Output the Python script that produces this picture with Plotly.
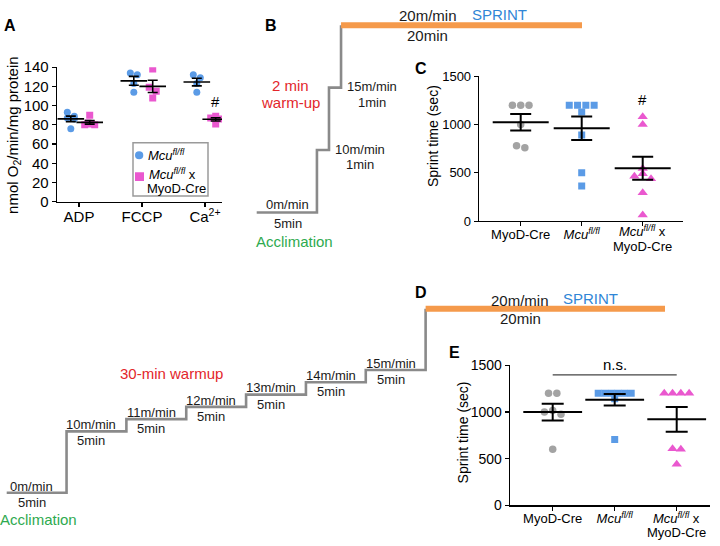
import numpy as np
import plotly.graph_objects as go

W, H = 720, 546
FONT = "Liberation Sans, Arial, Helvetica, sans-serif"

# ============================ DATA ============================
# Panel A - mitochondrial O2 consumption (nmol O2/min/mg protein)
a_conditions = ["ADP", "FCCP", "Ca<sup>2+</sup>"]
a_mcu_adp = [93, 89, 87, 86, 76]
a_mcu_fccp = [134, 132, 123, 114]
a_mcu_ca = [132, 129, 123, 114]
a_ko_adp = [90, 82, 81, 80, 80]
a_ko_fccp = [138, 119, 115, 108]
a_ko_ca = [89, 87, 86, 81]
a_yticks = [0, 20, 40, 60, 80, 100, 120, 140]

# genotype labels (x labels of C and E; the third one is written on two lines)
genotype_labels = ["MyoD-Cre",
                   "<i>Mcu</i><sup><i>fl/fl</i></sup>",
                   ""]
ko_label_line1 = "<i>Mcu</i><sup><i>fl/fl</i></sup> x"
ko_label_line2 = "MyoD-Cre"
legend_label_1 = "<i>Mcu</i><sup><i>fl/fl</i></sup>"
legend_label_2a = "<i>Mcu</i><sup><i>fl/fl</i></sup> x"
legend_label_2b = "MyoD-Cre"

# Panel C - sprint time after 2-min warm-up (sec)
c_myod = [1200, 1200, 1200, 1000, 780, 760]
c_mcu = [1200, 1200, 1200, 1200, 1130, 890, 500, 365]
c_ko = [1080, 1000, 545, 490, 465, 440, 295, 65]

# Panel E - sprint time after 30-min warm-up (sec)
e_myod = [1200, 1200, 1015, 1000, 975, 600]
e_mcu = [1200, 1200, 1200, 1200, 1200, 1200, 1140, 705]
e_ko = [1200, 1200, 1200, 1200, 605, 600, 440]
sprint_yticks = [0, 500, 1000, 1500]

# Treadmill protocols (speed m/min, duration min)
b_speeds = [0, 10, 15, 20]
b_minutes = [5, 1, 1, 20]
d_speeds = [0, 10, 11, 12, 13, 14, 15, 20]
d_minutes = [5, 5, 5, 5, 5, 5, 5, 20]

# ============================ STYLE ============================
BLUE = "#5b9be6"
PINK = "#ea58cf"
GREY = "#a3a3a3"
STAIR = "#8a8a8a"
ORANGE = "#f59a4b"
GREEN = "#2eaa4f"
RED = "#e3262b"
SPRINT_BLUE = "#2f86d6"


def lin(pa, va, pb, vb, p):
    return va + (p - pa) * (vb - va) / (pb - pa)


def xdom(p0, p1):
    return [p0 / W, p1 / W]


def ydom(top, bottom):
    return [1 - bottom / H, 1 - top / H]


def px(x):
    return x / W


def py(y):
    return 1 - y / H


def swarm_offsets(values, ppu_y, ppu_x, thr_px=5.0, step_px=8.3, span_px=33.0):
    v = np.asarray(values, float)
    order = np.argsort(-v, kind="stable")
    clusters = []
    for i in order:
        if clusters and (v[clusters[-1][0]] - v[i]) * ppu_y < thr_px:
            clusters[-1].append(i)
        else:
            clusters.append([i])
    off = np.zeros(len(v))
    for cl in clusters:
        n = len(cl)
        if n == 1:
            continue
        step = min(step_px, span_px / (n - 1))
        if n % 2:
            slots = [0] + [s * k for k in range(1, n // 2 + 1) for s in (-1, 1)]
        else:
            slots = [s * (k - 0.5) for k in range(1, n // 2 + 1) for s in (-1, 1)]
        for i, sl in zip(cl, slots):
            off[i] = sl * step / ppu_x
    return off


def mean_sem_trace(vals, x, xa, ya, size, capw, thick):
    v = np.asarray(vals, float)
    m = v.mean()
    sem = v.std(ddof=1) / np.sqrt(len(v))
    return go.Scatter(x=[x], y=[m], mode="markers", xaxis=xa, yaxis=ya,
                      marker=dict(symbol="line-ew", size=size, color="black",
                                  line=dict(width=thick, color="black")),
                      error_y=dict(type="data", array=[sem], width=capw,
                                   thickness=thick, color="black"),
                      showlegend=False, hoverinfo="skip")


fig = go.Figure()

# ============================ PANEL A ============================
A_X0, A_X1 = 79, 142           # pixel of category 0 and 1
A_DOM = (57, 222)
A_TOP, A_BOT = 60, 199
a_ppu_x = A_X1 - A_X0
a_ppu_y = (A_BOT - A_TOP) / 140
a_sets = [(a_mcu_adp, a_ko_adp), (a_mcu_fccp, a_ko_fccp), (a_mcu_ca, a_ko_ca)]
for i, (mcu, ko) in enumerate(a_sets):
    for vals, dx, col, sym in [(mcu, -0.13, BLUE, "circle"), (ko, 0.17, PINK, "square")]:
        xc = i + dx
        off = swarm_offsets(vals, a_ppu_y, a_ppu_x, thr_px=5, step_px=7, span_px=10)
        fig.add_trace(go.Scatter(x=xc + off, y=vals, mode="markers", xaxis="x", yaxis="y",
                                 marker=dict(symbol=sym, size=7, color=col, line=dict(width=0)),
                                 showlegend=False, hoverinfo="skip"))
for i, (mcu, ko) in enumerate(a_sets):
    fig.add_trace(mean_sem_trace(mcu, i - 0.13, "x", "y", 19, 5, 1.6))
    fig.add_trace(mean_sem_trace(ko, i + 0.17, "x", "y", 19, 5, 1.6))

# ============================ PANEL C ============================
C_X0, C_X1 = 520.7, 581.7
C_DOM = (479, 683)
C_TOP, C_BOT = 69.3, 219
c_ppu_x = C_X1 - C_X0
c_ppu_y = (C_BOT - C_TOP) / 1500
# ============================ PANEL E ============================
E_X0, E_X1 = 552.7, 614.7
E_DOM = (510, 710)
E_TOP, E_BOT = 367.7, 512.3
e_ppu_x = E_X1 - E_X0
e_ppu_y = (E_BOT - E_TOP) / 1500

for groups, xa, ya, ppx, ppy, msize, capw in [
        ((c_myod, c_mcu, c_ko), "x3", "y3", c_ppu_x, c_ppu_y, 40, 10.5),
        ((e_myod, e_mcu, e_ko), "x5", "y5", e_ppu_x, e_ppu_y, 42, 11)]:
    styles = [(GREY, "circle", 7.5), (BLUE, "square", 7), (PINK, "triangle-up", 9)]
    for i, (vals, (col, sym, sz)) in enumerate(zip(groups, styles)):
        off = swarm_offsets(vals, ppy, ppx, thr_px=5, step_px=8.3, span_px=33)
        fig.add_trace(go.Scatter(x=i + off, y=vals, mode="markers", xaxis=xa, yaxis=ya,
                                 marker=dict(symbol=sym, size=sz, color=col, line=dict(width=0)),
                                 showlegend=False, hoverinfo="skip"))
    for i, vals in enumerate(groups):
        fig.add_trace(mean_sem_trace(vals, i, xa, ya, msize, capw, 2))


# ============================ PANELS B & D (protocols) ============================
def level(s):
    # schematic display: 0-10 m/min range drawn compressed
    return s * 0.5 if s <= 10 else 5 + (s - 10)


def stair(speeds, minutes):
    ends = np.cumsum(minutes)
    starts = ends - np.asarray(minutes)
    gx, gy = [], []
    for i in range(len(speeds) - 1):
        L = level(speeds[i])
        gx += [starts[i], ends[i]]
        gy += [L, L]
    gx.append(starts[-1])
    gy.append(level(speeds[-1]))
    ox = [starts[-1], ends[-1]]
    oy = [level(speeds[-1])] * 2
    return starts, ends, gx, gy, ox, oy


b_st, b_en, bgx, bgy, box_, boy = stair(b_speeds, b_minutes)
d_st, d_en, dgx, dgy, dox, doy = stair(d_speeds, d_minutes)

for gx, gy, ox, oy, xa, ya in [(bgx, bgy, box_, boy, "x2", "y2"), (dgx, dgy, dox, doy, "x4", "y4")]:
    fig.add_trace(go.Scatter(x=gx, y=gy, mode="lines", xaxis=xa, yaxis=ya,
                             line=dict(color=STAIR, width=2.6), showlegend=False, hoverinfo="skip"))
    fig.add_trace(go.Scatter(x=ox, y=oy, mode="lines", xaxis=xa, yaxis=ya,
                             line=dict(color=ORANGE, width=6), showlegend=False, hoverinfo="skip"))

annotations = []


def ann(text, x, y, xref, yref, size, color="#1a1a1a", xshift=0, yshift=0,
        bold=False, angle=0, xanchor="center", yanchor="middle"):
    if bold:
        text = "<b>" + text + "</b>"
    annotations.append(dict(text=text, x=x, y=y, xref=xref, yref=yref, showarrow=False,
                            xanchor=xanchor, yanchor=yanchor, xshift=xshift, yshift=yshift,
                            textangle=angle, font=dict(size=size, color=color, family=FONT)))


# B labels
bmid = (b_st + b_en) / 2
ann(f"{b_speeds[0]}m/min", bmid[0], level(b_speeds[0]), "x2", "y2", 13, xshift=1, yshift=7.5)
ann(f"{b_minutes[0]}min", bmid[0], level(b_speeds[0]), "x2", "y2", 13, xshift=1, yshift=-11.5)
ann("Acclimation", bmid[0], level(b_speeds[0]), "x2", "y2", 15, GREEN, xshift=8, yshift=-29)
for i in (1, 2):
    ann(f"{b_speeds[i]}m/min", b_en[i], level(b_speeds[i]), "x2", "y2", 13, xshift=31, yshift=1)
    ann(f"{b_minutes[i]}min", b_en[i], level(b_speeds[i]), "x2", "y2", 13, xshift=31, yshift=-14.5)
ann(f"{b_speeds[-1]}m/min", bmid[-1], level(b_speeds[-1]), "x2", "y2", 15, xshift=-34, yshift=9.4)
ann(f"{b_minutes[-1]}min", bmid[-1], level(b_speeds[-1]), "x2", "y2", 15, xshift=-34, yshift=-10)
ann("SPRINT", bmid[-1], level(b_speeds[-1]), "x2", "y2", 15, SPRINT_BLUE, xshift=38, yshift=11)
ann("2 min", px(290), py(79), "paper", "paper", 15, RED)
ann("warm-up", px(290), py(96.2), "paper", "paper", 15, RED)

# D labels
dmid = (d_st + d_en) / 2
ann(f"{d_speeds[0]}m/min", dmid[0], level(d_speeds[0]), "x4", "y4", 13, xshift=-5, yshift=6.6)
ann(f"{d_minutes[0]}min", dmid[0], level(d_speeds[0]), "x4", "y4", 13, xshift=-5, yshift=-9.5)
ann("Acclimation", dmid[0], level(d_speeds[0]), "x4", "y4", 15, GREEN, xshift=2, yshift=-26.7)
for i in range(1, len(d_speeds) - 1):
    ann(f"{d_speeds[i]}m/min", dmid[i], level(d_speeds[i]), "x4", "y4", 13, xshift=-5, yshift=6.7)
    ann(f"{d_minutes[i]}min", dmid[i], level(d_speeds[i]), "x4", "y4", 13, xshift=-5, yshift=-9.5)
ann(f"{d_speeds[-1]}m/min", dmid[-1], level(d_speeds[-1]), "x4", "y4", 15, xshift=-25, yshift=8.3)
ann(f"{d_minutes[-1]}min", dmid[-1], level(d_speeds[-1]), "x4", "y4", 15, xshift=-25, yshift=-10)
ann("SPRINT", dmid[-1], level(d_speeds[-1]), "x4", "y4", 15, SPRINT_BLUE, xshift=45, yshift=10.3)
ann("30-min warmup", px(171), py(376.7), "paper", "paper", 15, RED)

# Panel letters
for letter, x, y in [("A", 9.7, 17), ("B", 271, 17), ("C", 421, 61.7), ("D", 421, 293), ("E", 454, 355)]:
    ann(letter, px(x), py(y), "paper", "paper", 16, "black", bold=True)

# Y-axis titles
ann("nmol O<sub>2</sub>/min/mg protein", px(14), py(130), "paper", "paper", 15, "black", angle=-90)
ann("Sprint time (sec)", px(432.5), py(131.7), "paper", "paper", 14, "black", angle=-90)
ann("Sprint time (sec)", px(463.3), py(436.7), "paper", "paper", 14, "black", angle=-90)

# third genotype label of C and E (two lines)
ann(ko_label_line1, 2, py(229), "x3", "paper", 13, "black")
ann(ko_label_line2, 2, py(245.5), "x3", "paper", 13, "black")
ann(ko_label_line1, 2, py(525.5), "x5", "paper", 13, "black")
ann(ko_label_line2, 2, py(540), "x5", "paper", 13, "black")

# significance marks
ann("#", 2 + 0.17, max(a_ko_ca), "x", "y", 15, "black", yshift=15)
ann("#", 2, max(c_ko), "x3", "y3", 15, "black", yshift=17)
ns_level = 1396
ann("n.s.", 1, ns_level, "x5", "y5", 15, "black", yshift=10)

shapes = [
    dict(type="line", xref="x5", yref="y5", x0=0, x1=2, y0=ns_level, y1=ns_level,
         line=dict(color="#444444", width=1.2)),
    # legend of panel A
    dict(type="rect", xref="paper", yref="paper", x0=px(133), x1=px(208), y0=py(193), y1=py(138),
         line=dict(color="#9a9a9a", width=1.5), fillcolor="white"),
    dict(type="circle", xref="paper", yref="paper", x0=px(135), x1=px(143.3), y0=py(155.2), y1=py(146.9),
         line=dict(width=0), fillcolor=BLUE),
    dict(type="rect", xref="paper", yref="paper", x0=px(135), x1=px(144), y0=py(177.5), y1=py(168.5),
         line=dict(width=0), fillcolor=PINK),
]
ann(legend_label_1, px(145.5), py(151), "paper", "paper", 13, "black", xanchor="left")
ann(legend_label_2a, px(146.5), py(170.2), "paper", "paper", 13, "black", xanchor="left")
ann(legend_label_2b, px(145), py(184.8), "paper", "paper", 13, "black", xanchor="left")

# ============================ AXES ============================
common = dict(showline=True, linecolor="black", linewidth=1.3, ticks="outside", ticklen=4,
              tickwidth=1.2, tickcolor="black", showgrid=False, zeroline=False,
              fixedrange=True)
hidden = dict(visible=False, showgrid=False, zeroline=False, fixedrange=True)

fig.update_layout(
    xaxis=dict(common, domain=xdom(*A_DOM),
               range=[lin(A_X0, 0, A_X1, 1, A_DOM[0]), lin(A_X0, 0, A_X1, 1, A_DOM[1])],
               tickvals=[0, 1, 2], ticktext=a_conditions, tickfont=dict(size=15, family=FONT),
               ticklabelstandoff=-3, anchor="y"),
    yaxis=dict(common, domain=ydom(A_TOP, A_BOT), range=[0, 140], tickvals=a_yticks,
               tickfont=dict(size=15, family=FONT), anchor="x"),
    xaxis2=dict(hidden, domain=xdom(248, 592),
                range=[lin(256.7, 0, 582, 27, 248), lin(256.7, 0, 582, 27, 592)], anchor="y2"),
    yaxis2=dict(hidden, domain=ydom(4, 222),
                range=[lin(210, 0, 16.7, 15, 222), lin(210, 0, 16.7, 15, 4)], anchor="x2"),
    xaxis3=dict(common, domain=xdom(*C_DOM),
                range=[lin(C_X0, 0, C_X1, 1, C_DOM[0]), lin(C_X0, 0, C_X1, 1, C_DOM[1])],
                tickvals=[0, 1, 2], ticktext=genotype_labels, tickfont=dict(size=13, family=FONT),
                ticklabelstandoff=-3, anchor="y3"),
    yaxis3=dict(common, domain=ydom(C_TOP, C_BOT), range=[0, 1500], tickvals=sprint_yticks,
                tickfont=dict(size=13, family=FONT), anchor="x3"),
    xaxis4=dict(hidden, domain=xdom(0, 680),
                range=[lin(6.7, 0, 665, 55, 0), lin(6.7, 0, 665, 55, 680)], anchor="y4"),
    yaxis4=dict(hidden, domain=ydom(290, 514),
                range=[lin(499.3, 0, 309.3, 15, 514), lin(499.3, 0, 309.3, 15, 290)], anchor="x4"),
    xaxis5=dict(common, domain=xdom(*E_DOM),
                range=[lin(E_X0, 0, E_X1, 1, E_DOM[0]), lin(E_X0, 0, E_X1, 1, E_DOM[1])],
                tickvals=[0, 1, 2], ticktext=genotype_labels, tickfont=dict(size=13, family=FONT),
                ticklabelstandoff=-3, anchor="y5"),
    yaxis5=dict(common, domain=ydom(E_TOP, E_BOT), range=[0, 1500], tickvals=sprint_yticks,
                tickfont=dict(size=14, family=FONT), anchor="x5"),
    width=W, height=H, margin=dict(l=0, r=0, t=0, b=0, pad=0),
    paper_bgcolor="white", plot_bgcolor="rgba(0,0,0,0)",
    showlegend=False, font=dict(family=FONT, color="black"),
    annotations=annotations, shapes=shapes,
)

fig.write_html("out.html", config={"displayModeBar": False, "staticPlot": True},
               post_script="document.body.style.margin='0';")
